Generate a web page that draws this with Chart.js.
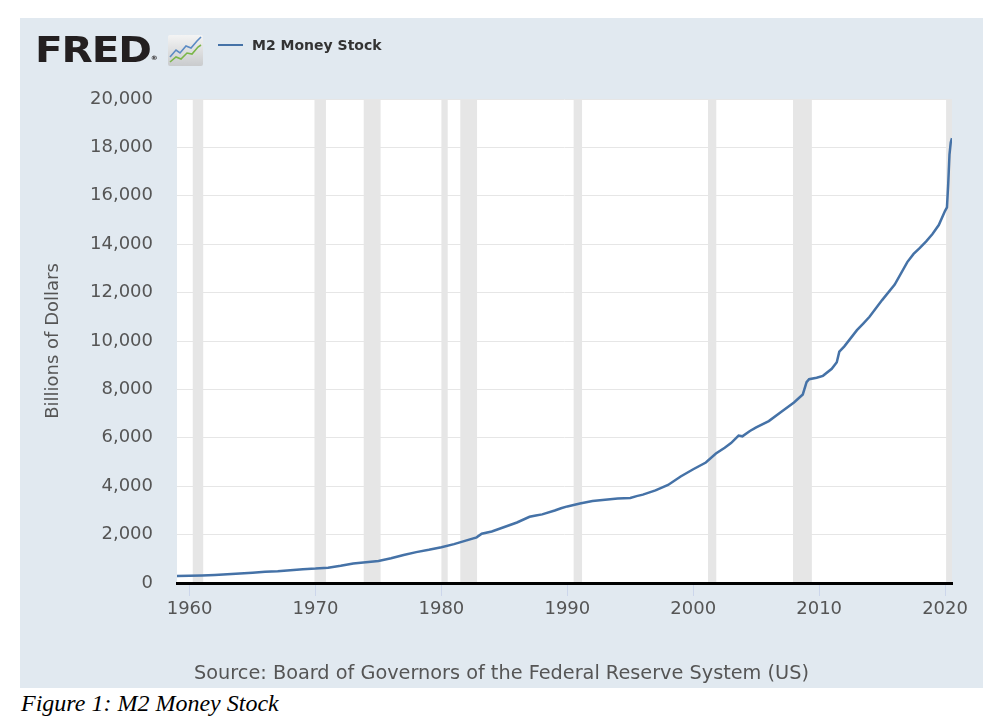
<!DOCTYPE html>
<html>
<head>
<meta charset="utf-8">
<script src="https://cdn.jsdelivr.net/npm/chart.js@4.4.1/dist/chart.umd.min.js"></script>
<style>
    body { margin: 0; background: #fff; width: 1004px; height: 723px; position: relative; overflow: hidden; }
    #panel { position: absolute; left: 20px; top: 18px; width: 963px; height: 670px; background: #e1e9f0; }
    #chart { position: absolute; left: 0; top: 0; }
    #logo { position: absolute; left: 15px; top: 12px; font-family: "DejaVu Sans", sans-serif; font-weight: bold;
        font-size: 35px; color: #231f20; transform: scaleX(1.16); transform-origin: left top; letter-spacing: -1px; }
    #logo sup { font-size: 6px; vertical-align: baseline; position: relative; top: -2px; }
    #icon { position: absolute; left: 148px; top: 17px; }
    #legend { position: absolute; left: 198px; top: 19px; font-family: "DejaVu Sans", sans-serif; font-weight: bold;
        font-size: 14px; color: #333; }
    #legend span { display: inline-block; width: 25px; height: 2px; background: #4572a7; vertical-align: middle; margin-right: 9px; position: relative; top: -1px; }
    #source { position: absolute; left: 0; width: 963px; top: 643px; text-align: center; font-family: "DejaVu Sans", sans-serif;
        font-size: 19.3px; color: #555; }
    #caption { position: absolute; left: 21px; top: 690px; font-family: "Liberation Serif", serif; font-style: italic; font-size: 24px; color: #000; }
</style>
</head>
<body>
<div id="panel">
    <canvas id="chart" width="963" height="670"></canvas>
    <div id="logo">FRED<sup>&reg;</sup></div>
    <svg id="icon" width="35" height="31" viewBox="0 0 35 31">
        <defs>
            <linearGradient id="g" x1="0" y1="0" x2="0" y2="1">
                <stop offset="0" stop-color="#f4f4f4"/>
                <stop offset="1" stop-color="#c9cbcd"/>
            </linearGradient>
        </defs>
        <rect x="0" y="0" width="35" height="31" rx="2" fill="url(#g)"/>
        <polyline points="2,22 8,15 12,18 18,11 23,13 29,6 33,2" fill="none" stroke="#5b8bc4" stroke-width="1.6"/>
        <polyline points="2,27 8,22 13,24 19,18 24,19 30,12 33,10" fill="none" stroke="#7ab648" stroke-width="1.6"/>
    </svg>
    <div id="legend"><span></span>M2 Money Stock</div>
    <div id="source">Source: Board of Governors of the Federal Reserve System (US)</div>
</div>
<div id="caption">Figure 1: M2 Money Stock</div>

<script>
// M2 money stock, billions of dollars
const YEARS = [
    1959.0, 1960.0, 1961.0, 1962.0, 1963.0, 1964.0, 1965.0, 1966.0, 1967.0, 1968.0,
    1969.0, 1970.0, 1971.0, 1972.0, 1973.0, 1974.0, 1975.0, 1976.0, 1977.0, 1978.0,
    1979.0, 1980.0, 1981.0, 1982.0, 1982.8, 1983.2, 1984.0, 1985.0, 1986.0, 1987.0,
    1987.5, 1988.0, 1989.0, 1989.5, 1990.0, 1991.0, 1992.0, 1993.0, 1994.0, 1995.0,
    1995.5, 1996.0, 1997.0, 1998.0, 1999.0, 2000.0, 2001.0, 2001.8, 2002.5, 2003.0,
    2003.6, 2003.9, 2004.5, 2005.0, 2006.0, 2007.0, 2008.0, 2008.7, 2009.0, 2009.2,
    2009.8, 2010.3, 2011.0, 2011.4, 2011.6, 2012.0, 2013.0, 2013.5, 2014.0, 2015.0,
    2016.0, 2017.0, 2017.5, 2018.0, 2018.5, 2019.0, 2019.5, 2020.0, 2020.15, 2020.25,
    2020.35, 2020.45, 2020.55
];
const M2_VALUES = [
    286, 298, 313, 335, 363, 392, 424, 460, 481, 525,
    568, 595, 635, 715, 810, 862, 910, 1020, 1155, 1275,
    1370, 1480, 1605, 1760, 1885, 2035, 2130, 2315, 2500, 2735,
    2790, 2835, 2995, 3090, 3165, 3285, 3385, 3440, 3490, 3510,
    3590, 3650, 3830, 4050, 4400, 4700, 4980, 5350, 5590, 5780,
    6090, 6060, 6280, 6430, 6690, 7080, 7460, 7790, 8300, 8420,
    8480, 8560, 8850, 9120, 9560, 9780, 10450, 10720, 11000, 11690,
    12330, 13260, 13600, 13850, 14120, 14420, 14790, 15380, 15520, 16500,
    17700, 18200, 18380
];

// NBER recessions (shaded)
const RECESSION_START = [1960.25, 1969.92, 1973.83, 1980.0, 1981.5, 1990.5, 2001.17, 2007.92, 2020.08];
const RECESSION_END = [1961.08, 1970.83, 1975.17, 1980.5, 1982.83, 1991.17, 2001.83, 2009.42, 2020.55];

const X_TICKS = [1960, 1970, 1980, 1990, 2000, 2010, 2020];
const Y_TICKS = [0, 2000, 4000, 6000, 8000, 10000, 12000, 14000, 16000, 18000, 20000];

const TICK_FONT = { family: 'DejaVu Sans', size: 18 };

const recessionPlugin = {
    id: 'recessions',
    beforeDraw(chart) {
        const { ctx, chartArea, scales } = chart;
        ctx.save();
        ctx.fillStyle = '#ffffff';
        ctx.fillRect(chartArea.left, chartArea.top, chartArea.width, chartArea.height);
        ctx.fillStyle = '#e6e6e6';
        for (let i = 0; i < RECESSION_START.length; i++) {
            const x0 = scales.x.getPixelForValue(RECESSION_START[i]);
            const x1 = scales.x.getPixelForValue(RECESSION_END[i]);
            ctx.fillRect(x0, chartArea.top, x1 - x0, chartArea.height);
        }
        ctx.restore();
    }
};

new Chart(document.getElementById('chart'), {
    type: 'line',
    data: {
        datasets: [{
            label: 'M2 Money Stock',
            data: YEARS.map((yr, i) => ({ x: yr, y: M2_VALUES[i] })),
            borderColor: '#4572a7',
            borderWidth: 2.5,
            pointRadius: 0,
            tension: 0,
        }]
    },
    options: {
        responsive: false,
        animation: false,
        devicePixelRatio: 1,
        layout: { padding: { top: 81, right: 31, left: 0, bottom: 65 } },
        plugins: {
            legend: { display: false },
            tooltip: { enabled: false },
        },
        scales: {
            x: {
                type: 'linear',
                min: 1959.0,
                max: 2020.55,
                afterBuildTicks: (scale) => { scale.ticks = X_TICKS.map(v => ({ value: v })); },
                afterFit: (scale) => { scale.height = 40; },
                ticks: {
                    font: TICK_FONT,
                    color: '#555',
                    padding: 3,
                    maxRotation: 0,
                    callback: (v) => String(v),
                },
                grid: {
                    drawOnChartArea: false,
                    drawTicks: true,
                    tickLength: 13,
                    color: '#ccd6eb',
                },
                border: { display: true, color: '#000', width: 3 },
            },
            y: {
                min: 0,
                max: 20000,
                afterBuildTicks: (scale) => { scale.ticks = Y_TICKS.map(v => ({ value: v })); },
                afterFit: (scale) => { scale.width = 157; },
                ticks: {
                    font: TICK_FONT,
                    color: '#555',
                    padding: 24,
                    callback: (v) => v.toLocaleString('en-US'),
                },
                grid: {
                    drawTicks: false,
                    color: '#e6e6e6',
                    lineWidth: 1,
                },
                border: { display: false },
                title: {
                    display: true,
                    text: 'Billions of Dollars',
                    font: { family: 'DejaVu Sans', size: 18 },
                    color: '#555',
                    padding: { top: 23, bottom: 0 },
                },
            },
        },
    },
    plugins: [recessionPlugin],
});
</script>
</body>
</html>
